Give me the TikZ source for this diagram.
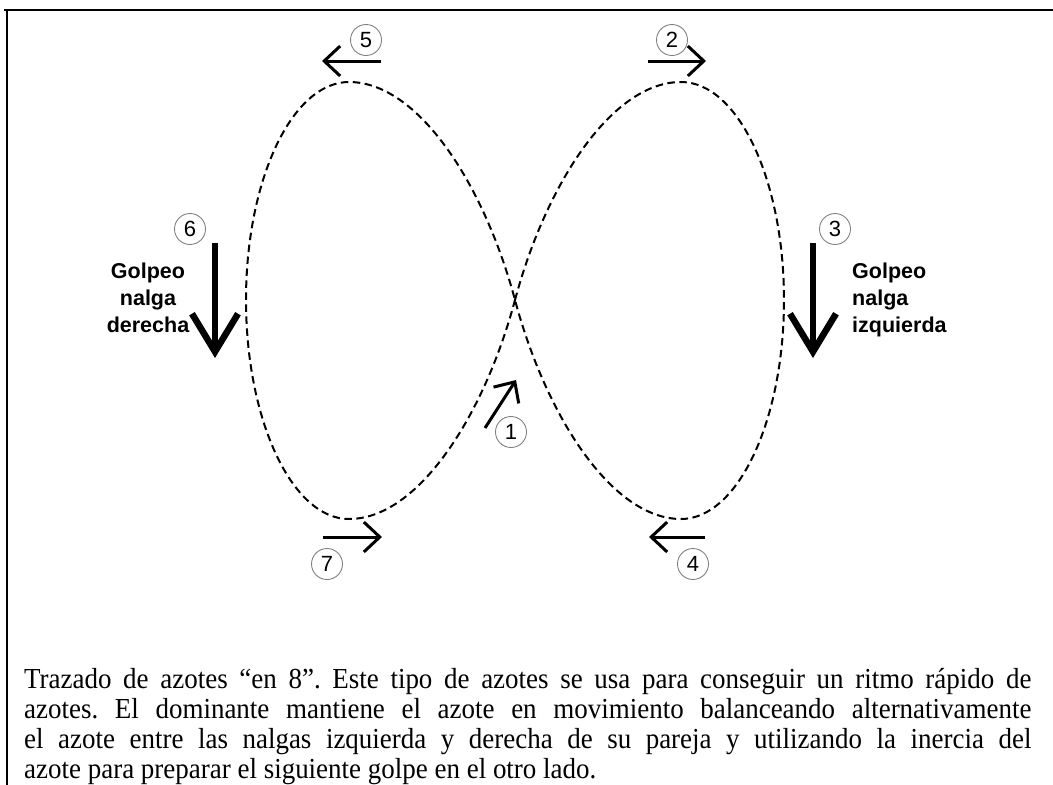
\documentclass[tikz,border=0pt]{standalone}
\usepackage{fontspec}
\setmainfont{Liberation Serif}
\setsansfont{Liberation Sans}
\usepackage{tikz}
\usetikzlibrary{arrows.meta,positioning}
\tikzset{
  trazo/.style={line width=2pt,dash pattern=on 7.5pt off 4.5pt},
  num/.style={circle,draw=gray,line width=0.9pt,minimum size=31pt,inner sep=0pt,
    font=\sffamily\fontsize{22}{22}\selectfont},
  flecha/.style={line width=3pt,-{Straight Barb[length=16pt,width=30pt]}},
  golpe/.style={line width=6.5pt,-{Straight Barb[length=38pt,width=46pt]}},
  rotulo/.style={inner sep=0pt,font=\sffamily\bfseries\fontsize{21.5}{27}\selectfont},
  pie/.style={inner sep=0pt,text width=1083pt,align=justify,xscale=0.93,transform shape,
    font=\fontsize{29}{30}\selectfont\frenchspacing\hyphenpenalty10000\relax}
}

\begin{document}
\begin{tikzpicture}[x=1pt,y=-1pt]
  \useasboundingbox (0,0) rectangle (1053,785);
  % marco
  \draw[line width=2.6pt] (4,10) -- (1053,10);
  \draw[line width=2pt] (7,10) -- (7,785);
  % trazado en 8
  \draw[trazo] (515,300) .. controls (546,184) and (612,82) .. (681,82)
    .. controls (738,82) and (784,180) .. (784,300)
    .. controls (784,420) and (738,519) .. (681,519)
    .. controls (612,519) and (546,416) .. (515,300)
    .. controls (484,184) and (418,82) .. (349,82)
    .. controls (292,82) and (246,180) .. (246,300)
    .. controls (246,420) and (292,519) .. (349,519)
    .. controls (418,519) and (484,416) .. (515,300);
  % numeros
  \node[num] (n1) at (511,432) {1};
  \node[num] (n2) at (672,40) {2};
  \node[num] (n3) at (835,229) {3};
  \node[num] (n4) at (693,564) {4};
  \node[num] (n5) at (366,40) {5};
  \node[num] (n6) at (190,229) {6};
  \node[num] (n7) at (327,564) {7};
  % flechas
  \draw[flecha] (485,428) -- (516,380);
  \draw[flecha] (648,61) -- (706,61);
  \draw[golpe] (813,243) -- (813,358);
  \draw[flecha] (705,537) -- (649,537);
  \draw[flecha] (381,61) -- (322,61);
  \draw[golpe] (215,243) -- (215,358);
  \draw[flecha] (323,537) -- (382,537);
  % rotulos
  \node[rotulo,align=center] (dcha) at (148,298) {Golpeo\\nalga\\derecha};
  \node[rotulo,align=left,anchor=west] (izda) at (852,300) {Golpeo\\nalga\\izquierda};
  % pie
  \node[pie,anchor=base west] (texto) at (24,688) {Trazado de azotes “en 8”. Este tipo de azotes se usa para conseguir un ritmo rápido de\linebreak
    azotes. El dominante mantiene el azote en movimiento balanceando alternativamente\linebreak
    el azote entre las nalgas izquierda y derecha de su pareja y utilizando la inercia del\linebreak
    azote para preparar el siguiente golpe en el otro lado.};
\end{tikzpicture}
\end{document}
